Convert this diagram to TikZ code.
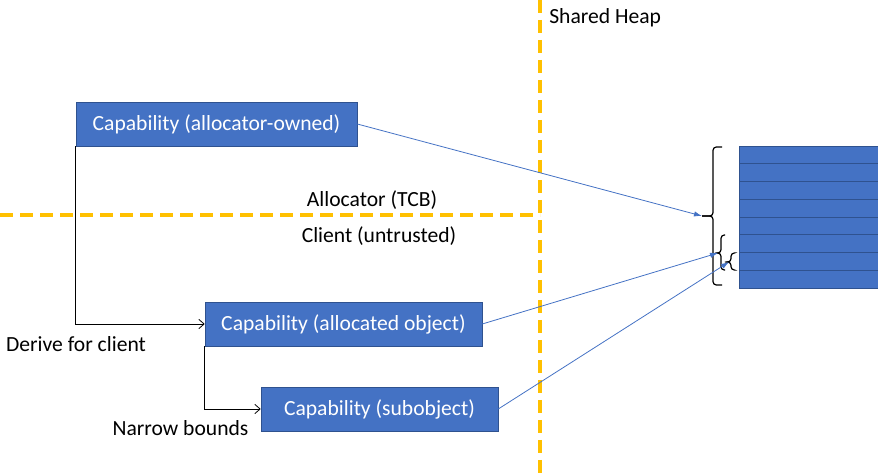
\documentclass[tikz,border=0pt]{standalone}
\usepackage{fontspec}
\setmainfont{Carlito}
\usetikzlibrary{positioning,arrows.meta}
\definecolor{capblue}{HTML}{4472C4}
\definecolor{capedge}{HTML}{2F528F}
\definecolor{zoneline}{HTML}{FFC000}
\begin{document}
\begin{tikzpicture}[x=0.75pt,y=-0.75pt,
    capbox/.style={draw=capedge, fill=capblue, text=white, minimum height=33pt, inner sep=0pt,
      font=\fontsize{16.2}{19}\selectfont},
    lbl/.style={font=\fontsize{16.2}{19}\selectfont, inner sep=0pt},
    zone/.style={draw=zoneline, line width=2.3pt, dash pattern=on 10pt off 5pt},
    derivearrow/.style={draw=black, line width=0.6pt, -{Straight Barb[length=4pt,width=7pt]}},
    pointer/.style={draw=capblue, line width=0.6pt, -{Latex[length=6pt,width=4pt]}},
    bracket/.style={draw=black, line width=0.9pt, rounded corners=2.5pt}]
  \useasboundingbox (0,0) rectangle (878,473);
  {
  % Drawing the zone boundaries
  \draw [zone] (540,0) -- (540,473);%
  \draw [zone] (0,215) -- (540,215);%

  % Marking zone labels
  \node [lbl, anchor=west] (heaplbl) at (549,18) {Shared Heap};%
  \node [lbl] (tcblbl) at (372,200) {Allocator (TCB)};%
  \node [lbl] (clientlbl) at (379,236) {Client (untrusted)};%

  % Drawing capability boxes
  \node [capbox, minimum width=210.75pt] (owned) at (216.5,124) {Capability (allocator-owned)};%
  \node [capbox, minimum width=207.75pt] (object) at (343.5,324) {Capability (allocated object)};%
  \node [capbox, minimum width=177.75pt] (subobj) at (379.5,409) {Capability (subobject)};%

  % Drawing derivation steps
  \draw [derivearrow] (owned.south west) |- (object.west);%
  \draw [derivearrow] (object.south west) |- (subobj.west);%
  \node [lbl] (derive) at (76,344) {Derive for client};%
  \node [lbl] (narrow) at (180.5,428) {Narrow bounds};%

  % Drawing the heap rows
  \foreach \i in {0,...,7}
    \draw [draw=capedge, fill=capblue, line width=0.7pt] (739,146+17.75*\i) rectangle (878,146+17.75*\i+17.75);%
  \coordinate (heap) at (739,146);%

  % Drawing brackets over the heap
  \coordinate (bigtip) at (702,216);%
  \draw [bracket] (722,147) -- (713,147) -- (713,216) -- (bigtip);%
  \draw [bracket] (bigtip) -- (713,216) -- (713,285) -- (722,285);%
  \coordinate (objtip) at (718,253);%
  \draw [bracket] (725,235) -- (721,235) -- (721,253) -- (objtip);%
  \draw [bracket] (objtip) -- (721,253) -- (721,270) -- (725,270);%
  \coordinate (subtip) at (729,262);%
  \draw [bracket] (734,253) -- (731,253) -- (731,262) -- (subtip);%
  \draw [bracket] (subtip) -- (731,262) -- (731,270) -- (734,270);%

  % Drawing pointers into the heap
  \draw [pointer] (owned.east) -- (bigtip);%
  \draw [pointer] (object.east) -- (objtip);%
  \draw [pointer] (subobj.east) -- (subtip);%
  }
\end{tikzpicture}
\end{document}
